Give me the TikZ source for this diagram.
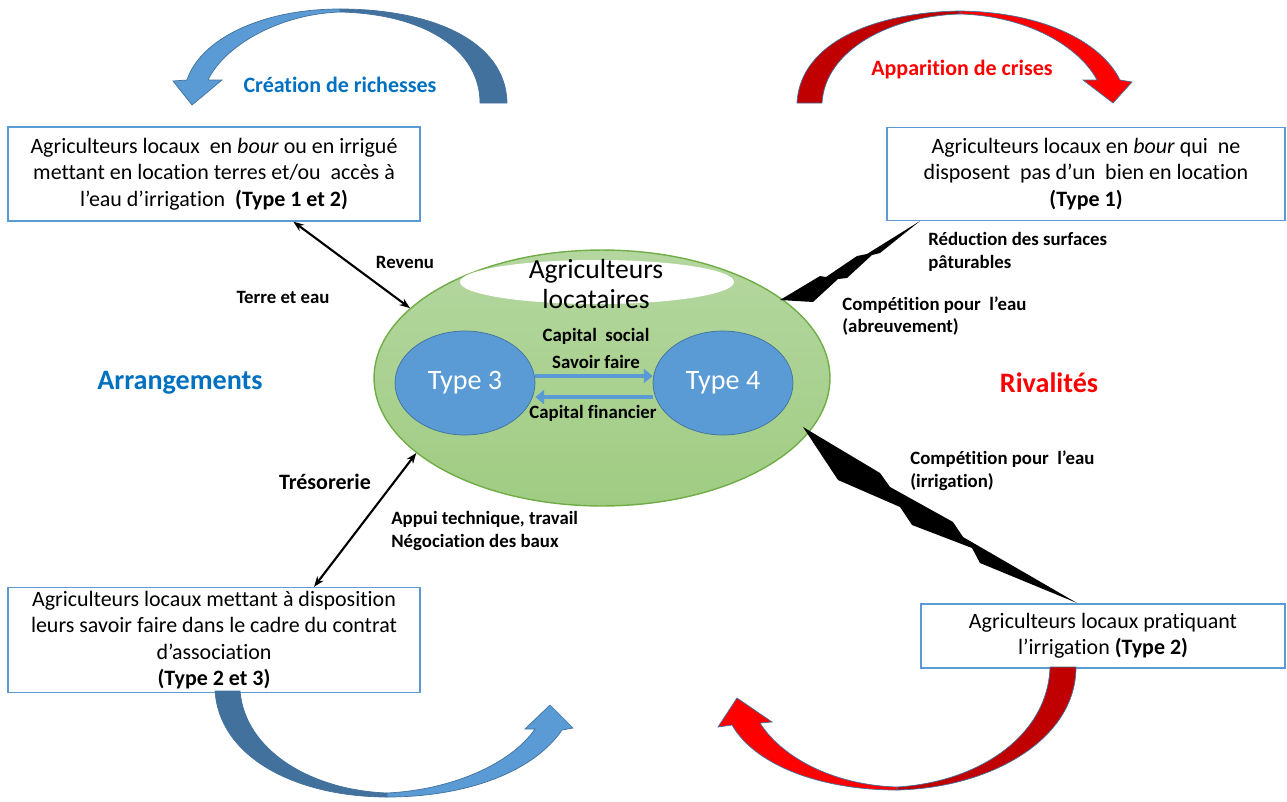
\documentclass[tikz,border=0pt]{standalone}
\usepackage{fontspec}
\setmainfont[Ligatures=NoCommon]{Carlito}
\usetikzlibrary{positioning}
\usetikzlibrary{shapes.geometric}
\usetikzlibrary{arrows.meta}

\definecolor{boxblue}{HTML}{5B9BD5}
\definecolor{darkblue}{HTML}{41719C}
\definecolor{titleblue}{HTML}{0070C0}
\definecolor{crisisred}{HTML}{FF0000}
\definecolor{darkred}{HTML}{C00000}
\definecolor{leafgreen}{HTML}{70AD47}
\definecolor{paleleaf}{HTML}{B4D7A0}
\definecolor{midleaf}{HTML}{A0CC82}

\begin{document}
\begin{tikzpicture}[
            x = 0.02cm,
            y = -0.02cm,
            box/.style = {
                draw = boxblue,
                line width = 0.8pt,
                fill = white,
                align = center,
                inner sep = 2pt,
                font = \fontsize{12.5}{15}\selectfont
            },
            typenode/.style = {
                ellipse,
                draw = darkblue,
                fill = boxblue,
                text = white,
                minimum width = 2.8cm,
                minimum height = 2.08cm,
                font = \fontsize{16}{19}\selectfont
            },
            tag/.style = {font = \bfseries\fontsize{10.7}{13}\selectfont, align = left},
            side/.style = {font = \bfseries\fontsize{16}{19}\selectfont},
            cycletext/.style = {font = \bfseries\fontsize{12.5}{14}\selectfont},
            flow/.style = {boxblue, line width = 2pt, -{Triangle[length=5pt, width=8pt]}},
            link/.style = {line width = 1.2pt, {Stealth[length=6pt]}-{Stealth[length=6pt]}},
            curvearrow/.style = {draw = darkblue, line width = 0.4pt}
            ]
            \useasboundingbox (0,0) rectangle (1287,801);

            % central group
            \node[ellipse, draw=leafgreen, line width=0.8pt, top color=paleleaf, bottom color=midleaf,
                  minimum width=9.12cm, minimum height=5.12cm] (main) at (602,378) {};
            \node[ellipse, fill=white, minimum width=5.48cm, minimum height=0.88cm] (hole) at (597,282) {};
            \node[font=\fontsize{15.7}{17.5}\selectfont, align=center] (title) at (596,284) {Agriculteurs\\locataires};
            \node[typenode] (t3) at (465,383) {Type 3};
            \node[typenode] (t4) at (723,383) {Type 4};
            \node[tag] (cs) at (596,336) {Capital\ \ social};
            \node[tag] (sf) at (596,362) {Savoir faire};
            \node[tag] (cf) at (593,413) {Capital financier};
            \draw[flow] ([yshift=4pt]t3.east) -- ([yshift=4pt]t4.west);
            \draw[flow] ([yshift=-8pt]t4.west) -- ([yshift=-8pt]t3.east);

            % the four groups of local farmers
            \node[box, minimum width=8.24cm, minimum height=1.88cm] (tl) at (214,174)
                {Agriculteurs locaux \ en \emph{bour} ou en irrigué\\mettant en location terres et/ou \ accès à\\l’eau d’irrigation \ \textbf{(Type 1 et 2)}};
            \node[box, minimum width=7.96cm, minimum height=1.86cm] (tr) at (1086,174)
                {Agriculteurs locaux en \emph{bour} qui \ ne\\disposent \ pas d’un \ bien en location\\\textbf{(Type 1)}};
            \node[box, minimum width=8.24cm, minimum height=2.10cm] (bl) at (214,640)
                {Agriculteurs locaux mettant à disposition\\leurs savoir faire dans le cadre du contrat\\d’association\\\textbf{(Type 2 et 3)}};
            \node[box, minimum width=7.28cm, minimum height=1.28cm] (br) at (1103,636)
                {Agriculteurs locaux pratiquant\\l’irrigation \textbf{(Type 2)}};

            % arrangements
            \draw[link] (tl.-31) -- (main.160);
            \draw[link] (bl.28) -- (main.202);
            \node[tag] (rev) at (405,262) {Revenu};
            \node[tag] (terre) at (283,297) {Terre et eau};
            \node[font=\bfseries\fontsize{12.5}{14}\selectfont] (treso) at (325,482) {Trésorerie};
            \node[tag, anchor=west, inner sep=0pt] (appui) at (391,531) {Appui technique, travail\\Négociation des baux};
            \node[side, text=titleblue] (arr) at (180,383) {Arrangements};

            % rivalries
            \fill (780,300) -- (820,276) -- (826,277) -- (857,256) -- (867,254) -- (920,221)
                -- (880,253) -- (872,255) -- (847,278) -- (838,279) -- (813,302) -- cycle;
            \fill (803,427) -- (880,473) -- (890,487) -- (953,522) -- (963,537) -- (1077,603)
                -- (980,563) -- (972,548) -- (912,525) -- (900,507) -- (838,480) -- cycle;
            \node[tag, anchor=west, inner sep=0pt] (surf) at (928,252) {Réduction des surfaces\\pâturables};
            \node[tag, anchor=west, inner sep=0pt] (abreuv) at (842,316) {Compétition pour \ l’eau\\(abreuvement)};
            \node[tag, anchor=west, inner sep=0pt] (irrig) at (910,471) {Compétition pour \ l’eau\\(irrigation)};
            \node[side, text=crisisred] (riv) at (1049,383) {Rivalités};

            % cycle arrows
            \filldraw[curvearrow, fill=darkblue] (507,103) .. controls (506,40) and (430,9) .. (340,9) -- (340,12)
                .. controls (425,14) and (480,50) .. (480,103) -- cycle;
            \filldraw[curvearrow, fill=boxblue] (340,9) .. controls (260,9) and (200,40) .. (187,80) -- (173,81) -- (192,105)
                -- (222,80) -- (208,80) .. controls (225,45) and (280,14) .. (340,12) -- cycle;
            \node[cycletext, text=titleblue] (richesse) at (340,85) {Création de richesses};

            \filldraw[curvearrow, fill=darkred] (797,103) .. controls (800,40) and (880,12) .. (960,11) -- (960,14)
                .. controls (890,16) and (825,50) .. (822,103) -- cycle;
            \filldraw[curvearrow, fill=crisisred] (960,11) .. controls (1040,12) and (1100,40) .. (1120,80) -- (1132,82) -- (1113,103)
                -- (1083,80) -- (1097,80) .. controls (1080,48) and (1030,16) .. (960,14) -- cycle;
            \node[cycletext, text=crisisred] (crise) at (962,70) {Apparition de crises};

            \filldraw[curvearrow, fill=darkblue] (215,691) .. controls (220,760) and (300,797) .. (387,797) -- (387,793)
                .. controls (310,790) and (245,750) .. (240,691) -- cycle;
            \filldraw[curvearrow, fill=boxblue] (387,797) .. controls (470,797) and (535,770) .. (562,730) -- (573,728) -- (550,705)
                -- (525,729) -- (535,729) .. controls (510,765) and (450,790) .. (387,793) -- cycle;

            \filldraw[curvearrow, fill=darkred] (1076,667) .. controls (1076,740) and (990,788) .. (897,790) -- (897,787)
                .. controls (980,782) and (1048,735) .. (1050,667) -- cycle;
            \filldraw[curvearrow, fill=crisisred] (897,790) .. controls (820,790) and (755,765) .. (732,725) -- (718,727) -- (737,698)
                -- (772,722) -- (760,723) .. controls (780,755) and (830,785) .. (897,787) -- cycle;
        \end{tikzpicture}
\end{document}
